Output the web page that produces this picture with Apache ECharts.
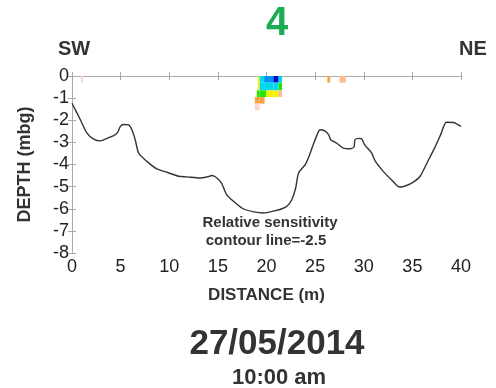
<!DOCTYPE html>
<html>
<head>
<meta charset="utf-8">
<script src="https://cdn.jsdelivr.net/npm/echarts@6/dist/echarts.min.js"></script>
<style>
html,body{margin:0;padding:0;background:#fff;}
#chart{width:496px;height:388px;}
</style>
</head>
<body>
<div id="chart"></div>
<script>
// Ground surface / contour line (distance m, depth mbg)
const lineX = [0,0.86,1.54,2.23,2.91,3.42,4.28,4.69,4.97,5.3,5.82,6.16,6.5,6.85,7.7,8.73,9.76,10.96,11.8,13.2,13.9,14.4,14.9,15.4,15.9,16.6,17.6,18.7,19.7,20.7,21.6,22.1,22.6,23.0,23.3,24.0,24.3,24.8,25.2,25.5,26.0,26.4,26.6,27.2,27.9,28.6,29.0,29.1,29.5,29.8,30.1,30.8,31.2,32.0,32.9,33.7,34.4,35.1,35.8,36.5,37.2,37.9,38.5,39.2,40];
const lineY = [-1.23,-1.98,-2.58,-2.85,-2.93,-2.85,-2.70,-2.55,-2.28,-2.19,-2.21,-2.43,-2.88,-3.48,-3.86,-4.2,-4.35,-4.53,-4.56,-4.61,-4.56,-4.5,-4.61,-4.86,-5.36,-5.66,-6.0,-6.14,-6.19,-6.11,-6.0,-5.89,-5.59,-5.06,-4.38,-4.0,-3.71,-3.11,-2.66,-2.43,-2.48,-2.66,-2.88,-3.03,-3.26,-3.29,-3.21,-2.88,-2.82,-2.85,-3.11,-3.48,-3.86,-4.31,-4.71,-5.02,-4.95,-4.8,-4.53,-3.93,-3.33,-2.66,-2.09,-2.1,-2.28];

// Sensitivity cells: x from, x to, depth top, depth bottom, level
const cellX0 = [19.1,19.3,19.75,20.25,20.7,21.25, 19.1,19.3,19.75,20.7,21.25, 19.0,19.3,20.0,20.7,21.2, 18.8,19.3, 18.8, 0.9, 26.25, 27.5];
const cellX1 = [19.3,19.75,20.25,20.7,21.25,21.6, 19.3,19.75,20.7,21.25,21.6, 19.3,20.0,20.7,21.2,21.6, 19.3,19.8, 19.3, 1.1, 26.55, 28.15];
const cellY0 = [0,0,0,0,0,0, -0.3,-0.3,-0.3,-0.3,-0.3, -0.65,-0.65,-0.65,-0.65,-0.65, -0.95,-0.95, -1.25, 0, 0, 0];
const cellY1 = [-0.3,-0.3,-0.3,-0.3,-0.3,-0.3, -0.65,-0.65,-0.65,-0.65,-0.65, -0.95,-0.95,-0.95,-0.95,-0.95, -1.25,-1.25, -1.55, -0.3, -0.3, -0.3];
const cellLevel = [4,6,7,7,9,6, 4,6,6,6,5, 5,5,4,4,2, 3,3, 1, 1, 3, 2];

const palette = ['#ffffff','#fcd8cc','#fcbc90','#f9a443','#f2f200','#2ee000','#00d8f0','#0090ff','#0040f0','#0010c8'];

const xTicks = [0,5,10,15,20,25,30,35,40];
const yTicks = [0,-1,-2,-3,-4,-5,-6,-7,-8];

const FONT = '"Liberation Sans", Arial, sans-serif';

const chart = echarts.init(document.getElementById('chart'), null, {renderer:'canvas'});

const cells = cellX0.map((v,i)=>[v, cellX1[i], cellY0[i], cellY1[i], cellLevel[i]]);
const line = lineX.map((v,i)=>[v, lineY[i]]);

const axisLine = {show:true, lineStyle:{color:'#aaaaaa', width:1}};
const axisTick = {show:true, length:4, lineStyle:{color:'#aaaaaa'}};

chart.setOption({
  animation:false,
  backgroundColor:'#ffffff',
  grid:{left:72, right:35, top:76, bottom:135, containLabel:false},
  xAxis:[
    {type:'value', min:xTicks[0], max:xTicks[xTicks.length-1], interval:5, position:'bottom',
     axisLine:axisLine, axisTick:axisTick, splitLine:{show:false},
     axisLabel:{color:'#222', fontSize:18, fontFamily:FONT, margin:5},
     name:'DISTANCE (m)', nameLocation:'middle', nameGap:34,
     nameTextStyle:{color:'#333', fontSize:17, fontWeight:'bold', fontFamily:FONT}},
    {type:'value', min:xTicks[0], max:xTicks[xTicks.length-1], interval:5, position:'top',
     axisLine:axisLine, axisTick:axisTick, splitLine:{show:false}, axisLabel:{show:false}}
  ],
  yAxis:[
    {type:'value', min:yTicks[yTicks.length-1], max:yTicks[0], interval:1, position:'left',
     axisLine:axisLine, axisTick:axisTick, splitLine:{show:false},
     axisLabel:{color:'#222', fontSize:18, fontFamily:FONT, margin:3},
     name:'DEPTH (mbg)', nameLocation:'middle', nameGap:38, nameRotate:90,
     nameTextStyle:{color:'#333', fontSize:18, fontWeight:'bold', fontFamily:FONT}},
    {type:'value', min:yTicks[yTicks.length-1], max:yTicks[0], interval:1, position:'right',
     axisLine:axisLine, axisTick:axisTick, splitLine:{show:false}, axisLabel:{show:false}}
  ],
  series:[
    {type:'custom', xAxisIndex:0, yAxisIndex:0, clip:true, data:cells,
     renderItem:function(params, api){
       const p0 = api.coord([api.value(0), api.value(2)]);
       const p1 = api.coord([api.value(1), api.value(3)]);
       return {type:'rect',
         shape:{x:Math.min(p0[0],p1[0]), y:Math.min(p0[1],p1[1]), width:Math.abs(p1[0]-p0[0]), height:Math.abs(p1[1]-p0[1])},
         style:{fill:palette[api.value(4)]}};
     }},
    {type:'line', xAxisIndex:0, yAxisIndex:0, data:line, showSymbol:false, smooth:0.25,
     lineStyle:{color:'#333333', width:1.4}}
  ],
  graphic:[
    {type:'text', x:277, y:24, style:{text:'4', fill:'#1aae52', font:'bold 40px '+FONT, textAlign:'center', textVerticalAlign:'middle'}},
    {type:'text', x:74, y:49, style:{text:'SW', fill:'#333', font:'bold 20px '+FONT, textAlign:'center', textVerticalAlign:'middle'}},
    {type:'text', x:473, y:49, style:{text:'NE', fill:'#333', font:'bold 20px '+FONT, textAlign:'center', textVerticalAlign:'middle'}},
    {type:'text', x:270, y:223, style:{text:'Relative sensitivity', fill:'#333', font:'bold 15px '+FONT, textAlign:'center', textVerticalAlign:'middle'}},
    {type:'text', x:266, y:241, style:{text:'contour line=-2.5', fill:'#333', font:'bold 15px '+FONT, textAlign:'center', textVerticalAlign:'middle'}},
    {type:'text', x:277, y:344, style:{text:'27/05/2014', fill:'#333', font:'bold 35px '+FONT, textAlign:'center', textVerticalAlign:'middle'}},
    {type:'text', x:279, y:378, style:{text:'10:00 am', fill:'#333', font:'bold 22px '+FONT, textAlign:'center', textVerticalAlign:'middle'}}
  ]
});
</script>
</body>
</html>
